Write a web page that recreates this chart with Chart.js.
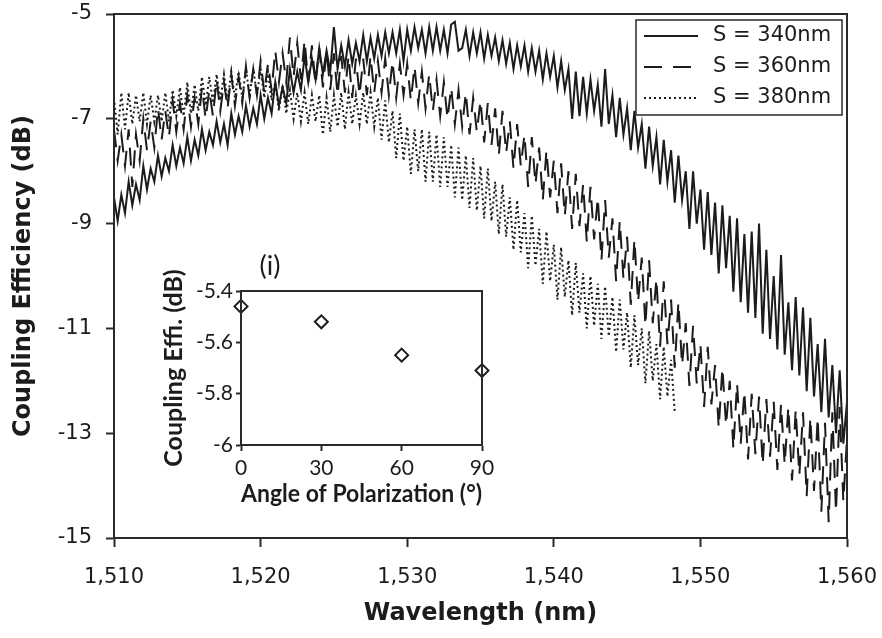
<!DOCTYPE html>
<html>
<head>
<meta charset="utf-8">
<script src="https://cdn.jsdelivr.net/npm/chart.js@4.4.1/dist/chart.umd.min.js"></script>
<style>
  html, body { margin: 0; padding: 0; background: #fff; }
  #wrap { position: relative; width: 882px; height: 638px; }
  #main { position: absolute; left: 0; top: 0; }
  #inset { position: absolute; left: 150px; top: 250px; }
</style>
</head>
<body>
<div id="wrap">
  <canvas id="main" width="882" height="638"></canvas>
  <canvas id="inset" width="350" height="260"></canvas>
</div>
<script>
// wavelength grid: 1510 nm, every 0.25 nm
const wlStart = 1510;
const wlStep = 0.25;

// S = 340nm (0.25 nm apart)
const s340 = [
  -8.5, -8.95, -8.45, -8.8, -8.2, -8.65, -8.25, -8.55,
  -7.9, -8.35, -7.95, -8.2, -7.7, -8.1, -7.75, -8.0,
  -7.5, -7.9, -7.55, -7.85, -7.35, -7.8, -7.4, -7.7,
  -7.2, -7.6, -7.25, -7.5, -7.05, -7.45, -7.1, -7.5,
  -6.9, -7.3, -6.95, -7.25, -6.75, -7.15, -6.8, -7.1,
  -6.55, -7.0, -6.6, -6.9, -6.3, -6.75, -6.4, -6.7,
  -6.05, -6.5, -6.1, -6.45, -5.8, -6.3, -5.85, -6.25,
  -5.65, -6.15, -5.7, -6.1, -5.25, -6.05, -5.6, -6.0,
  -5.5, -5.95, -5.55, -5.9, -5.4, -5.9, -5.45, -5.85,
  -5.4, -5.8, -5.35, -5.75, -5.35, -5.75, -5.3, -5.9,
  -5.3, -5.7, -5.25, -5.65, -5.3, -5.75, -5.25, -5.7,
  -5.25, -5.7, -5.3, -5.75, -5.2, -5.15, -5.7, -5.65,
  -5.3, -5.8, -5.35, -5.75, -5.35, -5.85, -5.4, -5.8,
  -5.45, -5.9, -5.5, -5.95, -5.55, -6.05, -5.6, -6.0,
  -5.6, -6.1, -5.65, -6.1, -5.7, -6.25, -5.75, -6.2,
  -5.8, -6.4, -5.9, -6.45, -6.05, -7.0, -6.1, -6.95,
  -6.2, -6.9, -6.25, -6.85, -6.35, -7.15, -6.05, -7.1,
  -6.55, -7.35, -6.6, -7.3, -6.8, -7.6, -6.85, -7.55,
  -7.1, -7.95, -7.15, -7.9, -7.35, -8.25, -7.4, -8.2,
  -7.6, -8.6, -7.7, -8.55, -8.0, -9.1, -8.0, -9.0,
  -8.35, -9.5, -8.4, -9.6, -8.6, -9.95, -8.65, -9.85,
  -8.85, -10.3, -8.9, -10.5, -9.2, -10.7, -9.15, -10.8,
  -9.0, -11.1, -9.5, -11.2, -10.0, -11.4, -9.6, -11.5,
  -10.5, -11.8, -10.4, -11.9, -10.6, -12.2, -10.8, -12.3,
  -11.3, -12.6, -11.2, -12.7, -11.7, -13.0, -11.8, -13.2,
  -12.4
];

// S = 360nm
const s360 = [
  -7.2, -7.8, -7.3, -7.9, -7.2, -8.3, -7.3, -7.8,
  -7.0, -7.6, -7.05, -7.55, -6.8, -7.4, -6.85, -7.35,
  -6.65, -7.25, -6.7, -7.2, -6.55, -7.15, -6.6, -7.1,
  -6.4, -7.0, -6.45, -6.95, -6.25, -6.85, -6.3, -6.8,
  -6.15, -6.75, -6.2, -6.7, -6.0, -6.6, -6.05, -6.55,
  -5.9, -6.5, -5.95, -6.45, -5.7, -6.3, -5.75, -6.3,
  -5.45, -6.2, -5.55, -6.25, -5.5, -6.3, -5.6, -6.35,
  -5.65, -6.4, -5.7, -6.45, -5.75, -6.55, -5.8, -6.5,
  -5.8, -6.6, -5.85, -6.55, -5.85, -6.55, -5.8, -6.5,
  -5.9, -6.5, -5.85, -6.55, -5.9, -6.6, -5.95, -6.55,
  -5.95, -6.65, -6.0, -6.7, -6.1, -6.8, -6.15, -6.85,
  -6.25, -6.95, -6.3, -7.0, -6.4, -7.1, -6.45, -7.15,
  -6.5, -7.3, -6.6, -7.25, -6.65, -7.45, -6.7, -7.5,
  -6.8, -7.7, -6.85, -7.65, -7.05, -7.95, -7.1, -7.9,
  -7.3, -8.3, -7.35, -8.25, -7.55, -8.55, -7.6, -8.5,
  -7.8, -8.8, -7.85, -8.85, -8.0, -9.1, -8.05, -9.05,
  -8.25, -9.35, -8.3, -9.3, -8.5, -9.7, -8.55, -9.65,
  -8.9, -10.1, -8.95, -10.05, -9.25, -10.55, -9.3, -10.5,
  -9.65, -10.95, -9.7, -10.9, -10.05, -11.35, -10.1, -11.3,
  -10.45, -11.75, -10.5, -11.7, -10.9, -12.1, -10.95, -12.05,
  -11.3, -12.5, -11.35, -12.45, -11.7, -12.9, -11.75, -12.85,
  -12.0, -13.3, -12.05, -13.2, -12.2, -13.5, -12.25, -13.4,
  -12.3, -13.6, -12.35, -13.45, -12.4, -13.7, -12.45, -13.6,
  -12.5, -13.9, -12.55, -13.8, -12.6, -14.2, -12.7, -14.1,
  -12.7, -14.5, -12.8, -14.7, -12.6, -14.5, -12.5, -14.3,
  -13.1
];

// S = 380nm (trace stops near 1548 nm)
const s380 = [
  -6.6, -7.3, -6.5, -7.2, -6.5, -7.1, -6.55, -7.05,
  -6.5, -7.1, -6.55, -7.05, -6.55, -7.05, -6.5, -7.05,
  -6.45, -6.95, -6.4, -6.95, -6.3, -6.9, -6.35, -6.85,
  -6.2, -6.75, -6.2, -6.7, -6.15, -6.65, -6.15, -6.65,
  -6.1, -6.6, -6.1, -6.6, -6.05, -6.55, -6.05, -6.55,
  -6.05, -6.6, -6.1, -6.65, -6.3, -6.85, -6.35, -6.9,
  -6.45, -7.0, -6.5, -7.05, -6.5, -7.1, -6.55, -7.05,
  -6.55, -7.3, -6.6, -7.25, -6.55, -7.15, -6.5, -7.2,
  -6.5, -7.1, -6.55, -7.1, -6.5, -7.1, -6.5, -7.15,
  -6.6, -7.4, -6.65, -7.45, -6.85, -7.75, -6.9, -7.8,
  -7.15, -8.05, -7.2, -8.0, -7.2, -8.2, -7.25, -8.2,
  -7.3, -8.3, -7.35, -8.3, -7.5, -8.5, -7.55, -8.55,
  -7.7, -8.7, -7.75, -8.75, -7.9, -8.9, -7.95, -8.95,
  -8.2, -9.2, -8.25, -9.25, -8.5, -9.5, -8.55, -9.55,
  -8.8, -9.85, -8.85, -9.8, -9.1, -10.15, -9.15, -10.1,
  -9.4, -10.45, -9.45, -10.4, -9.7, -10.75, -9.75, -10.7,
  -9.95, -11.0, -10.0, -10.95, -10.15, -11.2, -10.2, -11.15,
  -10.4, -11.45, -10.45, -11.4, -10.7, -11.75, -10.75, -11.7,
  -11.0, -12.05, -11.05, -12.0, -11.3, -12.35, -11.35, -12.3,
  -11.6, -12.6
];

const seriesLabels = ['S = 340nm', 'S = 360nm', 'S = 380nm'];
const seriesDash = [[], [18, 11], [2, 3]];

// inset (i)
const insetTag = '(i)';
const angles = [0, 30, 60, 90];
const angleEff = [-5.46, -5.52, -5.65, -5.71];

function toPoints(values) {
  return values.map((v, i) => ({ x: wlStart + i * wlStep, y: v }));
}

const ink = '#1c1c1c';

const framePlugin = {
  id: 'frame',
  afterDraw(chart) {
    const a = chart.chartArea;
    const ctx = chart.ctx;
    ctx.save();
    ctx.strokeStyle = '#2a2a2a';
    ctx.lineWidth = 2;
    ctx.strokeRect(a.left, a.top, a.right - a.left, a.bottom - a.top);
    ctx.restore();
  }
};

const boxLegend = {
  id: 'boxLegend',
  afterDraw(chart) {
    const a = chart.chartArea;
    const ctx = chart.ctx;
    const x0 = a.right - 211, y0 = a.top + 6, w = 206, h = 95;
    ctx.save();
    ctx.fillStyle = '#fff';
    ctx.fillRect(x0, y0, w, h);
    ctx.strokeStyle = '#2a2a2a';
    ctx.lineWidth = 1.5;
    ctx.strokeRect(x0, y0, w, h);
    chart.data.datasets.forEach((ds, i) => {
      const y = y0 + 16 + i * 31;
      ctx.strokeStyle = ink;
      ctx.lineWidth = 2;
      ctx.setLineDash(ds.borderDash || []);
      ctx.beginPath();
      ctx.moveTo(x0 + 8, y);
      ctx.lineTo(x0 + 62, y);
      ctx.stroke();
      ctx.setLineDash([]);
      ctx.fillStyle = ink;
      ctx.font = '21px "DejaVu Sans"';
      ctx.textBaseline = 'middle';
      ctx.fillText(ds.label, x0 + 77, y);
    });
    ctx.restore();
  }
};

const datasets = [s340, s360, s380].map((vals, i) => ({
  label: seriesLabels[i],
  data: toPoints(vals),
  borderColor: ink,
  borderWidth: 2,
  borderDash: seriesDash[i],
  pointRadius: 0,
  tension: 0,
  fill: false
}));

const tickFont = { family: 'DejaVu Sans', size: 21 };

new Chart(document.getElementById('main').getContext('2d'), {
  type: 'line',
  data: { datasets: datasets },
  options: {
    responsive: false,
    animation: false,
    devicePixelRatio: 1,
    layout: { padding: { top: 14, right: 35, left: 0, bottom: 0 } },
    plugins: {
      legend: { display: false },
      tooltip: { enabled: false }
    },
    scales: {
      x: {
        type: 'linear',
        min: 1510,
        max: 1560,
        ticks: { stepSize: 10, color: ink, font: tickFont, padding: 18, maxRotation: 0 },
        grid: { drawOnChartArea: false, tickLength: 9, tickWidth: 2, tickColor: '#2a2a2a' },
        border: { color: '#2a2a2a', width: 2 },
        title: {
          display: true,
          text: 'Wavelength (nm)',
          color: ink,
          font: { family: 'DejaVu Sans', size: 24, weight: 'bold' },
          padding: { top: 0, bottom: 10 }
        },
        afterFit: (s) => {
          s.height = 100;
          s.paddingLeft = 0;
          s.paddingRight = 0;
        }
      },
      y: {
        min: -15,
        max: -5,
        ticks: { stepSize: 2, color: ink, font: tickFont, padding: 14 },
        grid: { drawOnChartArea: false, tickLength: 8, tickWidth: 2, tickColor: '#2a2a2a' },
        border: { color: '#2a2a2a', width: 2 },
        title: {
          display: true,
          text: 'Coupling Efficiency (dB)',
          color: ink,
          font: { family: 'DejaVu Sans', size: 24, weight: 'bold' },
          padding: { top: 9, bottom: 4 }
        },
        afterFit: (s) => {
          s.width = 114;
          s.paddingTop = 0;
          s.paddingBottom = 0;
        }
      }
    }
  },
  plugins: [framePlugin, boxLegend]
});

// inset chart
const insetExtras = {
  id: 'insetExtras',
  beforeDraw(chart) {
    const a = chart.chartArea;
    const ctx = chart.ctx;
    ctx.save();
    ctx.fillStyle = '#fff';
    ctx.fillRect(a.left, a.top, a.right - a.left, a.bottom - a.top);
    ctx.restore();
  },
  afterDraw(chart) {
    const a = chart.chartArea;
    const ctx = chart.ctx;
    ctx.save();
    ctx.fillStyle = ink;
    ctx.font = '27px Lato';
    ctx.textAlign = 'center';
    ctx.textBaseline = 'middle';
    ctx.fillText(insetTag, a.left + 29, a.top - 25);
    ctx.restore();
  }
};

const insetTickFont = { family: 'Lato', size: 21 };

new Chart(document.getElementById('inset').getContext('2d'), {
  type: 'scatter',
  data: {
    datasets: [{
      data: angles.map((a, i) => ({ x: a, y: angleEff[i] })),
      pointStyle: 'rectRot',
      pointRadius: 6.5,
      borderWidth: 2,
      borderColor: ink,
      backgroundColor: '#fff',
      clip: false
    }]
  },
  options: {
    responsive: false,
    animation: false,
    devicePixelRatio: 1,
    layout: { padding: { top: 41, right: 18, left: 0, bottom: 0 } },
    plugins: {
      legend: { display: false },
      tooltip: { enabled: false }
    },
    scales: {
      x: {
        min: 0,
        max: 90,
        ticks: { stepSize: 30, color: ink, font: insetTickFont, padding: 5, maxRotation: 0 },
        grid: { drawOnChartArea: false, tickLength: 6, tickWidth: 2, tickColor: '#2a2a2a' },
        border: { color: '#2a2a2a', width: 2 },
        title: {
          display: true,
          text: 'Angle of Polarization (°)',
          color: ink,
          font: { family: 'Lato', size: 24, weight: 'bold' },
          padding: { top: 0, bottom: 1 }
        },
        afterFit: (s) => { s.height = 65; }
      },
      y: {
        min: -6,
        max: -5.4,
        ticks: {
          stepSize: 0.2,
          color: ink,
          font: insetTickFont,
          padding: 3,
          callback: (v) => String(+v.toFixed(1))
        },
        grid: { drawOnChartArea: false, tickLength: 5, tickWidth: 2, tickColor: '#2a2a2a' },
        border: { color: '#2a2a2a', width: 2 },
        title: {
          display: true,
          text: 'Coupling Effi. (dB)',
          color: ink,
          font: { family: 'Lato', size: 25, weight: 'bold' },
          padding: { top: 9, bottom: 2 }
        },
        afterFit: (s) => { s.width = 91; }
      }
    }
  },
  plugins: [insetExtras, framePlugin]
});
</script>
</body>
</html>
